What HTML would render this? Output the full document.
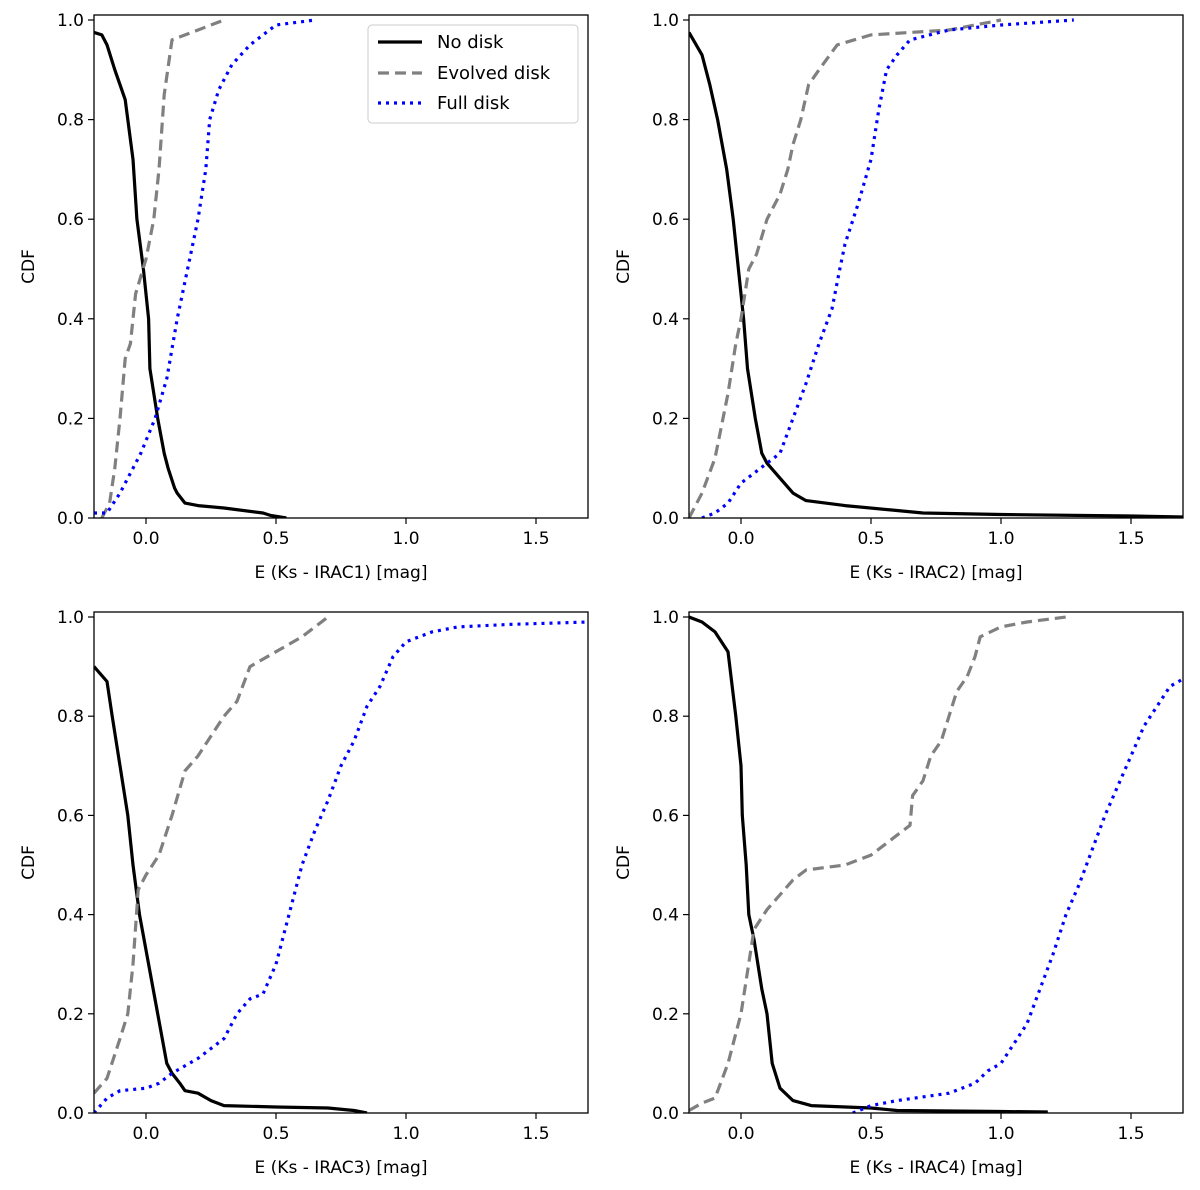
<!DOCTYPE html>
<html><head><meta charset="utf-8"><style>
body{margin:0;background:#fff}
svg{display:block;font-family:"DejaVu Sans","Liberation Sans",sans-serif}
</style></head><body>
<svg id="fig" width="1200" height="1190" viewBox="0 0 1200 1190" xmlns="http://www.w3.org/2000/svg"></svg>
<script>
const xTicks=[0.0,0.5,1.0,1.5];
const yTicks=[0.0,0.2,0.4,0.6,0.8,1.0];
const xLabels=["E (Ks - IRAC1) [mag]","E (Ks - IRAC2) [mag]","E (Ks - IRAC3) [mag]","E (Ks - IRAC4) [mag]"];
const noDisk1=[[-0.2,0.975],[-0.17,0.97],[-0.15,0.95],[-0.12,0.9],[-0.1,0.87],[-0.08,0.84],[-0.07,0.8],[-0.05,0.72],[-0.035,0.6],[-0.01,0.5],[0.01,0.4],[0.015,0.3],[0.045,0.2],[0.07,0.13],[0.085,0.1],[0.11,0.06],[0.12,0.05],[0.15,0.03],[0.2,0.025],[0.3,0.02],[0.45,0.01],[0.48,0.005],[0.54,0]];
const evolved1=[[-0.17,0],[-0.14,0.03],[-0.12,0.1],[-0.1,0.2],[-0.08,0.32],[-0.06,0.35],[-0.04,0.45],[0,0.52],[0.03,0.6],[0.05,0.7],[0.07,0.85],[0.1,0.96],[0.2,0.98],[0.3,1.0]];
const full1=[[-0.2,0.01],[-0.15,0.01],[-0.1,0.05],[-0.05,0.1],[-0.02,0.13],[0.035,0.2],[0.08,0.28],[0.12,0.4],[0.16,0.5],[0.2,0.6],[0.23,0.7],[0.245,0.8],[0.28,0.86],[0.33,0.91],[0.4,0.95],[0.45,0.97],[0.5,0.99],[0.65,1.0]];
const noDisk2=[[-0.2,0.975],[-0.15,0.93],[-0.12,0.87],[-0.09,0.8],[-0.055,0.7],[-0.03,0.6],[-0.01,0.5],[0.01,0.4],[0.025,0.3],[0.055,0.2],[0.08,0.13],[0.1,0.11],[0.15,0.08],[0.2,0.05],[0.25,0.035],[0.4,0.025],[0.6,0.015],[0.7,0.01],[1.0,0.007],[1.5,0.004],[1.7,0.002]];
const evolved2=[[-0.2,0],[-0.15,0.05],[-0.1,0.12],[-0.05,0.25],[-0.02,0.35],[0,0.4],[0.03,0.5],[0.06,0.53],[0.1,0.6],[0.15,0.65],[0.18,0.7],[0.2,0.75],[0.23,0.8],[0.26,0.87],[0.3,0.9],[0.37,0.95],[0.5,0.97],[0.8,0.98],[1.0,1.0]];
const full2=[[-0.15,0],[-0.1,0.01],[-0.05,0.03],[0,0.07],[0.05,0.09],[0.1,0.11],[0.15,0.13],[0.2,0.2],[0.25,0.27],[0.3,0.35],[0.35,0.42],[0.38,0.5],[0.4,0.55],[0.45,0.63],[0.5,0.72],[0.53,0.82],[0.56,0.9],[0.6,0.93],[0.65,0.96],[0.8,0.98],[1.0,0.99],[1.28,1.0]];
const noDisk3=[[-0.2,0.9],[-0.15,0.87],[-0.13,0.8],[-0.1,0.7],[-0.07,0.6],[-0.05,0.5],[-0.025,0.4],[0.01,0.3],[0.045,0.2],[0.08,0.1],[0.1,0.08],[0.13,0.06],[0.15,0.045],[0.2,0.04],[0.25,0.025],[0.3,0.015],[0.5,0.012],[0.7,0.01],[0.8,0.005],[0.85,0]];
const evolved3=[[-0.2,0.04],[-0.15,0.07],[-0.1,0.15],[-0.07,0.2],[-0.05,0.3],[-0.03,0.45],[0,0.48],[0.05,0.52],[0.1,0.6],[0.15,0.69],[0.2,0.72],[0.25,0.76],[0.3,0.8],[0.35,0.83],[0.4,0.9],[0.5,0.93],[0.6,0.96],[0.7,1.0]];
const full3=[[-0.2,0],[-0.15,0.03],[-0.1,0.045],[0,0.05],[0.05,0.06],[0.1,0.08],[0.2,0.11],[0.3,0.15],[0.35,0.2],[0.4,0.23],[0.45,0.24],[0.5,0.3],[0.55,0.4],[0.6,0.5],[0.65,0.57],[0.7,0.63],[0.75,0.7],[0.8,0.75],[0.85,0.82],[0.9,0.86],[0.95,0.92],[1.0,0.95],[1.1,0.97],[1.2,0.98],[1.4,0.985],[1.7,0.99]];
const noDisk4=[[-0.2,1.0],[-0.15,0.99],[-0.1,0.97],[-0.05,0.93],[-0.02,0.8],[0,0.7],[0.005,0.6],[0.02,0.5],[0.03,0.4],[0.05,0.35],[0.065,0.3],[0.08,0.25],[0.1,0.2],[0.12,0.1],[0.15,0.05],[0.2,0.025],[0.27,0.015],[0.5,0.01],[0.6,0.005],[1.0,0.003],[1.18,0.002]];
const evolved4=[[-0.2,0.005],[-0.15,0.02],[-0.1,0.03],[-0.05,0.1],[0,0.2],[0.05,0.37],[0.1,0.41],[0.15,0.44],[0.2,0.47],[0.25,0.49],[0.4,0.5],[0.5,0.52],[0.55,0.54],[0.6,0.56],[0.65,0.58],[0.66,0.64],[0.7,0.67],[0.73,0.72],[0.77,0.75],[0.8,0.8],[0.83,0.85],[0.87,0.88],[0.9,0.92],[0.92,0.96],[1.0,0.98],[1.1,0.99],[1.25,1.0]];
const full4=[[0.43,0],[0.5,0.015],[0.6,0.025],[0.8,0.04],[0.9,0.06],[0.95,0.085],[1.0,0.1],[1.05,0.14],[1.1,0.18],[1.15,0.25],[1.2,0.32],[1.25,0.4],[1.3,0.46],[1.35,0.53],[1.4,0.6],[1.45,0.66],[1.5,0.72],[1.55,0.78],[1.6,0.82],[1.65,0.86],[1.7,0.875]];

const panels=[
 {L:94,T:15,B:518,nd:noDisk1,ev:evolved1,fd:full1},
 {L:689,T:15,B:518,nd:noDisk2,ev:evolved2,fd:full2},
 {L:94,T:612,B:1113,nd:noDisk3,ev:evolved3,fd:full3},
 {L:689,T:612,B:1113,nd:noDisk4,ev:evolved4,fd:full4}];
const styles={nd:{c:"#000",dash:"",w:3.2,n:"no-disk-line"},ev:{c:"#808080",dash:"11,6",w:3.2,n:"evolved-disk-line"},fd:{c:"#0000ff",dash:"3,5",w:3.2,n:"full-disk-line"}};
const NS="http://www.w3.org/2000/svg";
const svg=document.getElementById('fig');
function mk(tag,attrs,parent){const e=document.createElementNS(NS,tag);for(const k in attrs)e.setAttribute(k,attrs[k]);(parent||svg).appendChild(e);return e;}
panels.forEach((p,i)=>{
 const W=494, xs=v=>p.L+(v+0.2)/1.9*W, ys=v=>p.B-v*(p.B-p.T-5)/1.0;
 const g=mk('g',{});
 
 
 const clipId='c'+i;
 const cp=mk('clipPath',{id:clipId},g);mk('rect',{x:p.L,y:p.T,width:W,height:p.B-p.T},cp);
 ['nd','ev','fd'].forEach(k=>{
  const s=styles[k];
  const d=p[k].map((pt,j)=>(j?'L':'M')+xs(pt[0]).toFixed(1)+','+ys(pt[1]).toFixed(1)).join('');
  const path=mk('path',{d:d,fill:'none',stroke:s.c,'stroke-width':s.w,'stroke-dasharray':s.dash,'clip-path':'url(#'+clipId+')','stroke-linejoin':'round'},g);
  
  
 });
 const fr=mk('rect',{x:p.L,y:p.T,width:W,height:p.B-p.T,fill:'none',stroke:'#000','stroke-width':1.3},g);
 
 
 xTicks.forEach(t=>{const x=xs(t);mk('line',{x1:x,x2:x,y1:p.B,y2:p.B+6,stroke:'#000','stroke-width':1.2},g);
  const tx=mk('text',{x:x,y:p.B+26,'font-size':17,'text-anchor':'middle'},g);tx.textContent=t.toFixed(1);
  
  });
 yTicks.forEach(t=>{const y=ys(t);mk('line',{x1:p.L-6,x2:p.L,y1:y,y2:y,stroke:'#000','stroke-width':1.2},g);
  const tx=mk('text',{x:p.L-10,y:y+6,'font-size':17,'text-anchor':'end'},g);tx.textContent=t.toFixed(1);
  
  });
 const xl=mk('text',{x:p.L+W/2,y:p.B+60,'font-size':17,'text-anchor':'middle'},g);xl.textContent=xLabels[i];
 
 
 const cy=(p.T+p.B)/2;
 const yl=mk('text',{x:p.L-60,y:cy,'font-size':17,'text-anchor':'middle',transform:'rotate(-90 '+(p.L-60)+' '+cy+')'},g);yl.textContent='CDF';
 
 
});
const lg=mk('g',{});


mk('rect',{x:368,y:25,width:210,height:98,rx:4,fill:'#fff','fill-opacity':0.8,stroke:'#ccc','stroke-width':1},lg);
[['nd','No disk',42],['ev','Evolved disk',73],['fd','Full disk',103]].forEach(([k,lab,y])=>{
 const s=styles[k];
 const e=mk('g',{},lg);
 
 
 mk('line',{x1:378,x2:422,y1:y,y2:y,stroke:s.c,'stroke-width':s.w,'stroke-dasharray':s.dash},e);
 const t=mk('text',{x:437,y:y+6,'font-size':18},e);t.textContent=lab;
});
</script>
</body></html>
